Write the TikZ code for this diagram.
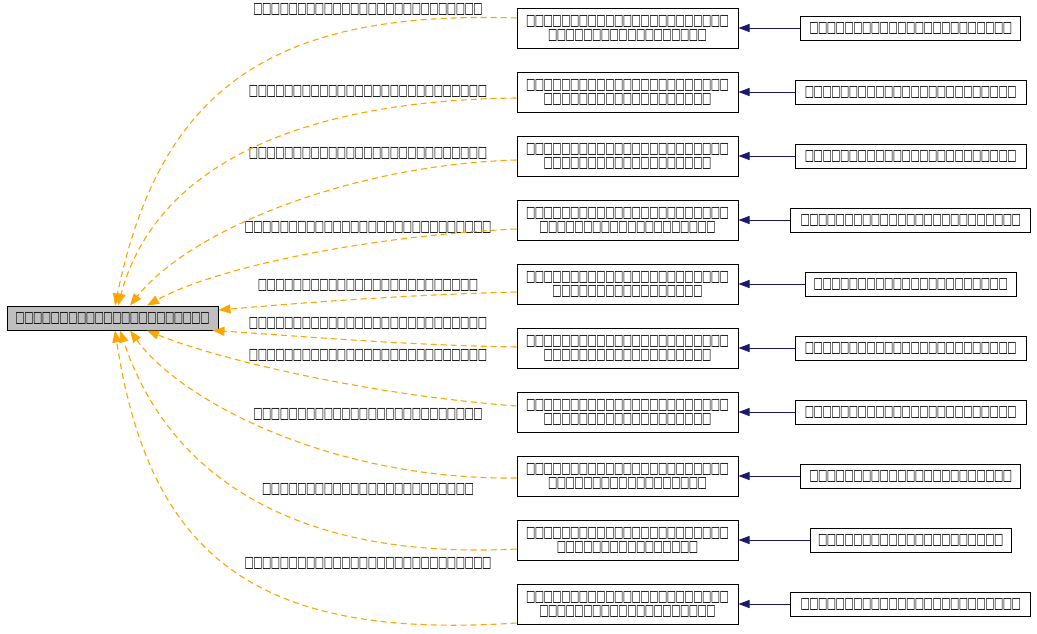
\documentclass[tikz,border=0pt]{standalone}
\usepackage{fontspec}
\setmainfont{DejaVu Sans}
\usetikzlibrary{arrows.meta}

\definecolor{edgeorange}{HTML}{FFA500}
\definecolor{edgenavy}{HTML}{191970}
\definecolor{maingray}{HTML}{BFBFBF}

% one missing-glyph box per character
\newcommand\tofu[1]{\foreach\k in {1,...,#1}{\makebox[8.8pt]{\scalebox{0.82}[1.3]{□}}}}

\tikzset{
  cls/.style={draw=black,line width=1pt,inner sep=0pt,align=center,
    font=\fontsize{12}{14}\selectfont},
  lbl/.style={inner sep=0pt,font=\fontsize{12}{14}\selectfont},
  uses/.style={edgenavy,line width=1pt,-{Triangle[length=11pt,width=8pt]}},
  dep/.style={edgeorange,line width=1.1pt,dash pattern=on 6pt off 4pt,
    -{Triangle[length=12pt,width=9pt]}}
}

\begin{document}
\begin{tikzpicture}[x=1pt,y=-1pt]
  \useasboundingbox (0,0) rectangle (1037,633);
  \node [cls,fill=maingray,minimum width=211pt,minimum height=24pt] (main) at (112.5,318) {\tofu{22}};
  \foreach \i/\a/\w/\b in {1/18/220/23,2/19/231/24,3/19/231/24,4/20/240/25,5/17/211/22,
      6/19/231/24,7/19/231/24,8/18/220/23,9/16/201/21,10/20/240/25} {
    \node [cls,minimum width=221pt,minimum height=40pt] (m\i) at (627.5,{28+64*(\i-1)})
      {\tofu{23}\\\tofu{\a}};
    \node [cls,minimum width=\w pt,minimum height=24pt] (r\i) at (910.75,{28+64*(\i-1)})
      {\tofu{\b}};
    \draw [uses] (r\i) -- (m\i);
  }
  \foreach \i/\y/\n in {1/9/26,2/91/27,3/153/27,4/227/28,5/285/25,
      6/323/27,7/355/27,8/414/26,9/489/24,10/563/28}
    \node [lbl] (l\i) at (368,\y) {\tofu{\n}};
  \draw [dep] ([yshift=10pt]m1.west) .. controls (270,10) and (160,90) .. ([xshift=2.5pt]main.north);
  \draw [dep] ([yshift=-6pt]m2.west) .. controls (330,100) and (160,150) .. ([xshift=5.5pt]main.north);
  \draw [dep] ([yshift=-4pt]m3.west) .. controls (350,165) and (190,230) .. ([xshift=17.5pt]main.north);
  \draw [dep] ([yshift=-9pt]m4.west) .. controls (380,235) and (220,265) .. ([xshift=34.5pt]main.north);
  \draw [dep] ([yshift=-8pt]m5.west) .. controls (400,295) and (300,303) .. ([yshift=8pt]main.east);
  \draw [dep] ([yshift=1pt]m6.west) .. controls (400,345) and (300,336) .. ([xshift=-6pt]main.south east);
  \draw [dep] ([yshift=6pt]m7.west) .. controls (370,395) and (220,360) .. ([xshift=34.5pt]main.south);
  \draw [dep] ([yshift=-2pt]m8.west) .. controls (330,480) and (180,400) .. ([xshift=17.5pt]main.south);
  \draw [dep] ([yshift=-9pt]m9.west) .. controls (300,560) and (170,480) .. ([xshift=7.5pt]main.south);
  \draw [dep] ([yshift=-19pt]m10.west) .. controls (260,640) and (150,560) .. ([xshift=2.5pt]main.south);
\end{tikzpicture}
\end{document}
